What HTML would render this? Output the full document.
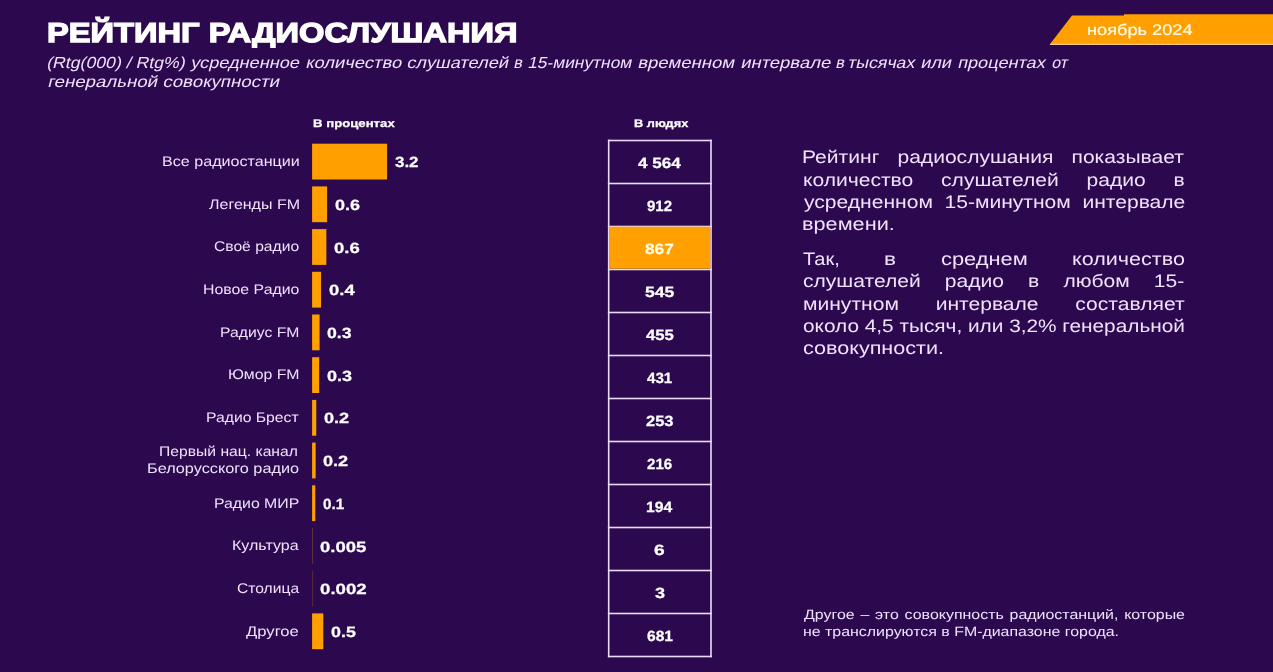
<!DOCTYPE html>
<html lang="ru"><head><meta charset="utf-8"><title>Рейтинг радиослушания</title>
<style>
html,body{margin:0;padding:0;}
body{width:1273px;height:672px;background:#2c094f;overflow:hidden;position:relative;font-family:"Liberation Sans",sans-serif;text-rendering:geometricPrecision;}
.t{position:absolute;white-space:nowrap;transform-origin:0 0;}
svg{position:absolute;left:0;top:0;}
#txt{position:absolute;left:0;top:0;width:1273px;height:672px;will-change:transform;}
</style></head><body>
<svg width="1273" height="672" viewBox="0 0 1273 672">
<rect x="312.10" y="143.70" width="75.00" height="35.8" fill="#ff9f00"/>
<rect x="312.10" y="186.40" width="14.99" height="35.8" fill="#ff9f00"/>
<rect x="312.10" y="229.10" width="14.25" height="35.8" fill="#ff9f00"/>
<rect x="312.10" y="271.80" width="8.96" height="35.8" fill="#ff9f00"/>
<rect x="312.10" y="314.50" width="7.48" height="35.8" fill="#ff9f00"/>
<rect x="312.10" y="357.20" width="7.08" height="35.8" fill="#ff9f00"/>
<rect x="312.10" y="399.90" width="4.16" height="35.8" fill="#ff9f00"/>
<rect x="312.10" y="442.60" width="3.55" height="35.8" fill="#ff9f00"/>
<rect x="312.10" y="485.30" width="3.19" height="35.8" fill="#ff9f00"/>
<rect x="312.20" y="528.00" width="0.9" height="35.8" fill="#ff9f00" opacity="0.3"/>
<rect x="312.20" y="570.70" width="0.9" height="35.8" fill="#ff9f00" opacity="0.24"/>
<rect x="312.10" y="613.40" width="11.19" height="35.8" fill="#ff9f00"/>
<rect x="607.9" y="139.70" width="103.90" height="1.6" fill="#eadcf9"/>
<rect x="607.9" y="182.70" width="103.90" height="1.6" fill="#eadcf9"/>
<rect x="607.9" y="225.70" width="103.90" height="1.6" fill="#eadcf9"/>
<rect x="607.9" y="268.70" width="103.90" height="1.6" fill="#eadcf9"/>
<rect x="607.9" y="311.70" width="103.90" height="1.6" fill="#eadcf9"/>
<rect x="607.9" y="354.70" width="103.90" height="1.6" fill="#eadcf9"/>
<rect x="607.9" y="397.70" width="103.90" height="1.6" fill="#eadcf9"/>
<rect x="607.9" y="440.70" width="103.90" height="1.6" fill="#eadcf9"/>
<rect x="607.9" y="483.70" width="103.90" height="1.6" fill="#eadcf9"/>
<rect x="607.9" y="526.70" width="103.90" height="1.6" fill="#eadcf9"/>
<rect x="607.9" y="569.70" width="103.90" height="1.6" fill="#eadcf9"/>
<rect x="607.9" y="612.70" width="103.90" height="1.6" fill="#eadcf9"/>
<rect x="607.9" y="655.70" width="103.90" height="1.6" fill="#eadcf9"/>
<rect x="607.9" y="139.70" width="1.6" height="517.60" fill="#eadcf9"/>
<rect x="710.2" y="139.70" width="1.6" height="517.60" fill="#eadcf9"/>
<rect x="609.0" y="226.70" width="101.30" height="42.00" fill="#ff9f00"/>
<polygon points="1049.5,44.7 1072,15.5 1124,15.5 1124,14.3 1273,14.3 1273,44.7" fill="#ff9f00"/>
<rect x="1050.2" y="43.8" width="222.8" height="1.0" fill="#ffd7a0"/>
</svg>
<div id="txt">
<div class="t" style="font-size:27.4px;line-height:28px;color:#ffffff;top:19px;font-weight:700;-webkit-text-stroke:1.3px #ffffff;left:46.91px;transform:scaleX(1.1923);">РЕЙТИНГ РАДИОСЛУШАНИЯ</div>
<div class="t" style="font-size:16px;line-height:16px;color:#efe2fd;top:56px;left:46.04px;transform-origin:0 12.8px;transform:scaleX(1.1046) skewX(-12deg);">(Rtg(000) / Rtg%)</div>
<div class="t" style="font-size:16px;line-height:16px;color:#efe2fd;top:56px;left:189.54px;transform-origin:0 12.8px;transform:scaleX(1.1354) skewX(-12deg);">усредненное</div>
<div class="t" style="font-size:16px;line-height:16px;color:#efe2fd;top:56px;left:304.68px;transform-origin:0 12.8px;transform:scaleX(1.1452) skewX(-12deg);">количество</div>
<div class="t" style="font-size:16px;line-height:16px;color:#efe2fd;top:56px;left:405.74px;transform-origin:0 12.8px;transform:scaleX(1.1380) skewX(-12deg);">слушателей</div>
<div class="t" style="font-size:16px;line-height:16px;color:#efe2fd;top:56px;left:513.03px;transform-origin:0 12.8px;transform:scaleX(1.0159) skewX(-12deg);">в</div>
<div class="t" style="font-size:16px;line-height:16px;color:#efe2fd;top:56px;left:527.14px;transform-origin:0 12.8px;transform:scaleX(1.0841) skewX(-12deg);">15-минутном</div>
<div class="t" style="font-size:16px;line-height:16px;color:#efe2fd;top:56px;left:637.03px;transform-origin:0 12.8px;transform:scaleX(1.1564) skewX(-12deg);">временном</div>
<div class="t" style="font-size:16px;line-height:16px;color:#efe2fd;top:56px;left:739.54px;transform-origin:0 12.8px;transform:scaleX(1.1504) skewX(-12deg);">интервале</div>
<div class="t" style="font-size:16px;line-height:16px;color:#efe2fd;top:56px;left:834.73px;transform-origin:0 12.8px;transform:scaleX(1.0159) skewX(-12deg);">в</div>
<div class="t" style="font-size:16px;line-height:16px;color:#efe2fd;top:56px;left:847.16px;transform-origin:0 12.8px;transform:scaleX(1.1048) skewX(-12deg);">тысячах</div>
<div class="t" style="font-size:16px;line-height:16px;color:#efe2fd;top:56px;left:920.47px;transform-origin:0 12.8px;transform:scaleX(1.1297) skewX(-12deg);">или</div>
<div class="t" style="font-size:16px;line-height:16px;color:#efe2fd;top:56px;left:956.96px;transform-origin:0 12.8px;transform:scaleX(1.1339) skewX(-12deg);">процентах</div>
<div class="t" style="font-size:16px;line-height:16px;color:#efe2fd;top:56px;left:1051.26px;transform-origin:0 12.8px;transform:scaleX(1.0045) skewX(-12deg);">от</div>
<div class="t" style="font-size:16px;line-height:16px;color:#efe2fd;top:75px;left:46.52px;transform-origin:0 12.8px;transform:scaleX(1.1649) skewX(-12deg);">генеральной совокупности</div>
<div class="t" style="font-size:15.4px;line-height:16px;color:#fffbea;top:23px;-webkit-text-stroke:0.2px #fffbea;left:1086.65px;transform:scaleX(1.1818);">ноябрь 2024</div>
<div class="t" style="font-size:11px;line-height:11px;color:#ffffff;top:119px;font-weight:700;-webkit-text-stroke:0.25px #ffffff;left:312.55px;transform:scaleX(1.1977);">В процентах</div>
<div class="t" style="font-size:11px;line-height:11px;color:#ffffff;top:119px;font-weight:700;-webkit-text-stroke:0.25px #ffffff;left:633.57px;transform:scaleX(1.1609);">В людях</div>
<div class="t" style="font-size:14px;line-height:14px;color:#efe2fd;top:154px;left:161.75px;transform:scaleX(1.1504);">Все радиостанции</div>
<div class="t" style="font-size:14.8px;line-height:15px;color:#ffffff;top:156px;font-weight:700;-webkit-text-stroke:0.25px #ffffff;left:394.51px;transform:scaleX(1.1431);">3.2</div>
<div class="t" style="font-size:14.8px;line-height:15px;color:#ffffff;top:157px;font-weight:700;-webkit-text-stroke:0.25px #ffffff;left:638.30px;transform:scaleX(1.1539);">4 564</div>
<div class="t" style="font-size:14px;line-height:14px;color:#efe2fd;top:197px;left:208.90px;transform:scaleX(1.1429);">Легенды FM</div>
<div class="t" style="font-size:14.8px;line-height:15px;color:#ffffff;top:199px;font-weight:700;-webkit-text-stroke:0.25px #ffffff;left:335.37px;transform:scaleX(1.2143);">0.6</div>
<div class="t" style="font-size:14.8px;line-height:15px;color:#ffffff;top:200px;font-weight:700;-webkit-text-stroke:0.25px #ffffff;left:647.18px;transform:scaleX(1.0125);">912</div>
<div class="t" style="font-size:14px;line-height:14px;color:#efe2fd;top:239px;left:213.83px;transform:scaleX(1.1171);">Своё радио</div>
<div class="t" style="font-size:14.8px;line-height:15px;color:#ffffff;top:242px;font-weight:700;-webkit-text-stroke:0.25px #ffffff;left:334.26px;transform:scaleX(1.2496);">0.6</div>
<div class="t" style="font-size:14.8px;line-height:15px;color:#fffbea;top:243px;font-weight:700;-webkit-text-stroke:0.25px #fffbea;left:645.34px;transform:scaleX(1.1632);">867</div>
<div class="t" style="font-size:14px;line-height:14px;color:#efe2fd;top:282px;left:202.96px;transform:scaleX(1.1331);">Новое Радио</div>
<div class="t" style="font-size:14.8px;line-height:15px;color:#ffffff;top:284px;font-weight:700;-webkit-text-stroke:0.25px #ffffff;left:329.16px;transform:scaleX(1.2471);">0.4</div>
<div class="t" style="font-size:14.8px;line-height:15px;color:#ffffff;top:286px;font-weight:700;-webkit-text-stroke:0.25px #ffffff;left:644.86px;transform:scaleX(1.1878);">545</div>
<div class="t" style="font-size:14px;line-height:14px;color:#efe2fd;top:325px;left:220.47px;transform:scaleX(1.1244);">Радиус FM</div>
<div class="t" style="font-size:14.8px;line-height:15px;color:#ffffff;top:327px;font-weight:700;-webkit-text-stroke:0.25px #ffffff;left:327.48px;transform:scaleX(1.1934);">0.3</div>
<div class="t" style="font-size:14.8px;line-height:15px;color:#ffffff;top:329px;font-weight:700;-webkit-text-stroke:0.25px #ffffff;left:645.95px;transform:scaleX(1.1291);">455</div>
<div class="t" style="font-size:14px;line-height:14px;color:#efe2fd;top:367px;left:228.27px;transform:scaleX(1.1300);">Юмор FM</div>
<div class="t" style="font-size:14.8px;line-height:15px;color:#ffffff;top:370px;font-weight:700;-webkit-text-stroke:0.25px #ffffff;left:326.97px;transform:scaleX(1.2186);">0.3</div>
<div class="t" style="font-size:14.8px;line-height:15px;color:#ffffff;top:372px;font-weight:700;-webkit-text-stroke:0.25px #ffffff;left:647.24px;transform:scaleX(1.0231);">431</div>
<div class="t" style="font-size:14px;line-height:14px;color:#efe2fd;top:410px;left:206.47px;transform:scaleX(1.1234);">Радио Брест</div>
<div class="t" style="font-size:14.8px;line-height:15px;color:#ffffff;top:412px;font-weight:700;-webkit-text-stroke:0.25px #ffffff;left:324.17px;transform:scaleX(1.2244);">0.2</div>
<div class="t" style="font-size:14.8px;line-height:15px;color:#ffffff;top:415px;font-weight:700;-webkit-text-stroke:0.25px #ffffff;left:645.90px;transform:scaleX(1.1150);">253</div>
<div class="t" style="font-size:14px;line-height:14px;color:#efe2fd;top:444px;left:159.18px;transform:scaleX(1.1195);">Первый нац. канал</div>
<div class="t" style="font-size:14px;line-height:14px;color:#efe2fd;top:461px;left:147.24px;transform:scaleX(1.1607);">Белорусского радио</div>
<div class="t" style="font-size:14.8px;line-height:15px;color:#ffffff;top:455px;font-weight:700;-webkit-text-stroke:0.25px #ffffff;left:323.37px;transform:scaleX(1.2244);">0.2</div>
<div class="t" style="font-size:14.8px;line-height:15px;color:#ffffff;top:458px;font-weight:700;-webkit-text-stroke:0.25px #ffffff;left:647.08px;transform:scaleX(1.0203);">216</div>
<div class="t" style="font-size:14px;line-height:14px;color:#efe2fd;top:496px;left:214.37px;transform:scaleX(1.1304);">Радио МИР</div>
<div class="t" style="font-size:14.8px;line-height:15px;color:#ffffff;top:498px;font-weight:700;-webkit-text-stroke:0.25px #ffffff;left:323.45px;transform:scaleX(1.0266);">0.1</div>
<div class="t" style="font-size:14.8px;line-height:15px;color:#ffffff;top:501px;font-weight:700;-webkit-text-stroke:0.25px #ffffff;left:646.01px;transform:scaleX(1.0634);">194</div>
<div class="t" style="font-size:14px;line-height:14px;color:#efe2fd;top:538px;left:232.05px;transform:scaleX(1.1441);">Культура</div>
<div class="t" style="font-size:14.8px;line-height:15px;color:#ffffff;top:541px;font-weight:700;-webkit-text-stroke:0.25px #ffffff;left:320.06px;transform:scaleX(1.2499);">0.005</div>
<div class="t" style="font-size:14.8px;line-height:15px;color:#ffffff;top:544px;font-weight:700;-webkit-text-stroke:0.25px #ffffff;left:654.22px;transform:scaleX(1.2970);">6</div>
<div class="t" style="font-size:14px;line-height:14px;color:#efe2fd;top:581px;left:236.83px;transform:scaleX(1.1161);">Столица</div>
<div class="t" style="font-size:14.8px;line-height:15px;color:#ffffff;top:583px;font-weight:700;-webkit-text-stroke:0.25px #ffffff;left:320.05px;transform:scaleX(1.2619);">0.002</div>
<div class="t" style="font-size:14.8px;line-height:15px;color:#ffffff;top:587px;font-weight:700;-webkit-text-stroke:0.25px #ffffff;left:654.59px;transform:scaleX(1.2210);">3</div>
<div class="t" style="font-size:14px;line-height:14px;color:#efe2fd;top:624px;left:246.43px;transform:scaleX(1.1874);">Другое</div>
<div class="t" style="font-size:14.8px;line-height:15px;color:#ffffff;top:626px;font-weight:700;-webkit-text-stroke:0.25px #ffffff;left:331.17px;transform:scaleX(1.2081);">0.5</div>
<div class="t" style="font-size:14.8px;line-height:15px;color:#ffffff;top:630px;font-weight:700;-webkit-text-stroke:0.25px #ffffff;left:646.57px;transform:scaleX(1.0542);">681</div>
<div class="t" style="font-size:18px;line-height:18px;color:#efe2fd;top:148px;left:802.30px;width:326.40px;text-align:justify;text-align-last:justify;transform:scaleX(1.17);">Рейтинг радиослушания показывает</div>
<div class="t" style="font-size:18px;line-height:18px;color:#efe2fd;top:171px;left:802.90px;width:326.32px;text-align:justify;text-align-last:justify;transform:scaleX(1.17);">количество слушателей радио в</div>
<div class="t" style="font-size:18px;line-height:18px;color:#efe2fd;top:193px;left:803.52px;width:325.90px;text-align:justify;text-align-last:justify;transform:scaleX(1.17);">усредненном 15-минутном интервале</div>
<div class="t" style="font-size:18px;line-height:18px;color:#efe2fd;top:215px;left:802.49px;transform:scaleX(1.2054);">времени.</div>
<div class="t" style="font-size:18px;line-height:18px;color:#efe2fd;top:250px;left:803.06px;transform:scaleX(1.1143);">Так,</div>
<div class="t" style="font-size:18px;line-height:18px;color:#efe2fd;top:250px;left:883.63px;transform:scaleX(1.2533);">в</div>
<div class="t" style="font-size:18px;line-height:18px;color:#efe2fd;top:250px;left:940.53px;transform:scaleX(1.2126);">среднем</div>
<div class="t" style="font-size:18px;line-height:18px;color:#efe2fd;top:250px;left:1071.87px;transform:scaleX(1.1975);">количество</div>
<div class="t" style="font-size:18px;line-height:18px;color:#efe2fd;top:272px;left:803.16px;width:325.89px;text-align:justify;text-align-last:justify;transform:scaleX(1.17);">слушателей радио в любом 15-</div>
<div class="t" style="font-size:18px;line-height:18px;color:#efe2fd;top:295px;left:802.54px;width:326.12px;text-align:justify;text-align-last:justify;transform:scaleX(1.17);">минутном интервале составляет</div>
<div class="t" style="font-size:18px;line-height:18px;color:#efe2fd;top:317px;left:803.19px;transform:scaleX(1.1558);">около 4,5 тысяч, или 3,2% генеральной</div>
<div class="t" style="font-size:18px;line-height:18px;color:#efe2fd;top:339px;left:803.14px;transform:scaleX(1.1982);">совокупности.</div>
<div class="t" style="font-size:13.5px;line-height:14px;color:#efe2fd;top:608px;left:803.54px;width:322.88px;text-align:justify;text-align-last:justify;transform:scaleX(1.18);">Другое – это совокупность радиостанций, которые</div>
<div class="t" style="font-size:13.5px;line-height:14px;color:#efe2fd;top:625px;left:802.94px;transform:scaleX(1.1788);">не транслируются в FM-диапазоне города.</div>
</div>
</body></html>
